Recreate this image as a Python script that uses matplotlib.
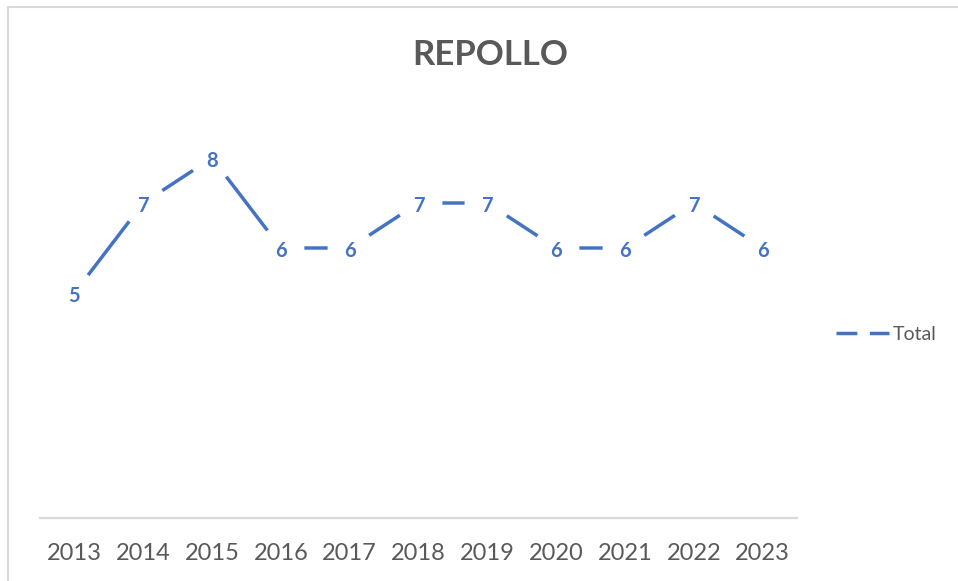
import matplotlib
matplotlib.use('Agg')
import matplotlib.pyplot as plt
import matplotlib.transforms as mtransforms
from matplotlib.lines import Line2D

plt.rcParams['font.family'] = ['Lato', 'DejaVu Sans']

# data
years = ['2013', '2014', '2015', '2016', '2017', '2018', '2019', '2020', '2021', '2022', '2023']
total = [5, 7, 8, 6, 6, 7, 7, 6, 6, 7, 6]

blue = '#4472C4'
grey_text = '#595959'
grey_line = '#d9d9d9'

fig = plt.figure(figsize=(9.58, 5.81), dpi=100)
ax = fig.add_axes([40/958, 63/581, 757/958, 405/581])

x = list(range(len(years)))
ax.plot(x, total, color=blue, linewidth=2.5, zorder=2, solid_capstyle='butt')
# white discs behind the labels break the line like Excel does
ax.scatter(x, total, s=33**2, color='white', zorder=3, linewidths=0)
shift = mtransforms.offset_copy(ax.transData, fig=fig, x=0, y=-3, units='dots')
for xi, v in zip(x, total):
    ax.text(xi, v, str(v), ha='center', va='center', color=blue,
            fontsize=14.5, fontweight='bold', zorder=4, transform=shift)

ax.set_xlim(-0.5, len(years) - 0.5)
ax.set_ylim(0, 9)
ax.set_xticks(x)
ax.set_xticklabels(years, fontsize=17, color=grey_text)
ax.tick_params(axis='x', length=0, pad=18)
ax.set_yticks([])
for side in ['top', 'right', 'left']:
    ax.spines[side].set_visible(False)
ax.spines['bottom'].set_color(grey_line)
ax.spines['bottom'].set_linewidth(1.6)

fig.text(490/958, 1 - 55/581, 'REPOLLO', ha='center', va='center',
         fontsize=25, fontweight='bold', color=grey_text)

handle = Line2D([], [], color=blue, linewidth=2.5, linestyle=(0, (6, 3.6)))
fig.legend([handle], ['Total'], loc='center left',
           bbox_to_anchor=(836/958, 1 - 334/581), frameon=False,
           fontsize=14, handlelength=2.75, handletextpad=0.15,
           borderpad=0, borderaxespad=0, labelcolor=grey_text)

# faint chart border
fig.add_artist(Line2D([8/958, 8/958], [0, 1 - 7/581], color=grey_line, linewidth=1.5))
fig.add_artist(Line2D([8/958, 1], [1 - 7/581, 1 - 7/581], color=grey_line, linewidth=1.5))

fig.savefig('out.png', dpi=100, facecolor='white')
